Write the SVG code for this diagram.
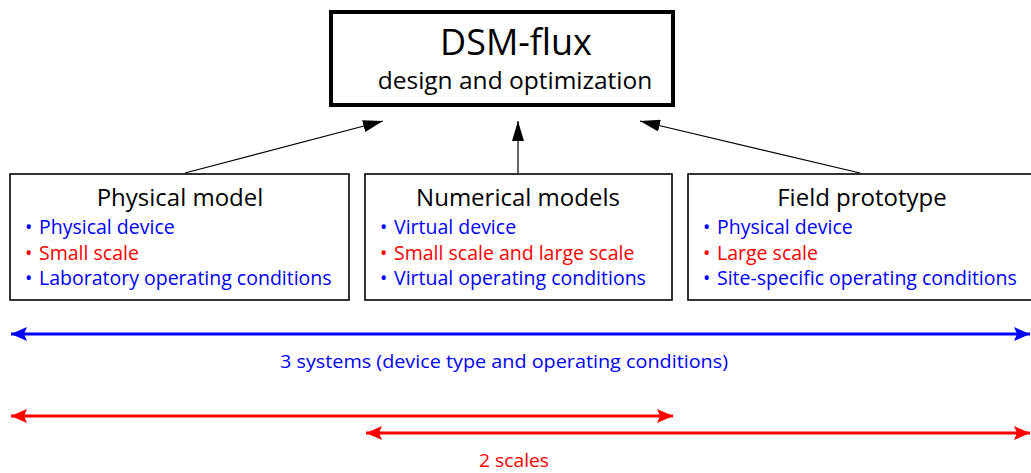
<svg xmlns="http://www.w3.org/2000/svg" width="1031" height="473" viewBox="0 0 1031 473">
<style>
text{font-family:"Open Sans","Noto Sans",sans-serif}
.box{fill:#fff;stroke:#000;stroke-width:1.6}
.title{font-size:24px;fill:#000;text-anchor:middle}
.b{font-size:19.5px;fill:#0000ff}
.r{font-size:19.5px;fill:#ff0000}
.conn{stroke:#000;stroke-width:1.2;fill:none}
</style>
<defs>
<marker id="ah" viewBox="0 0 20 12" refX="20" refY="6" markerWidth="20" markerHeight="12" markerUnits="userSpaceOnUse" orient="auto"><path d="M0,0 L20,6 L0,12 Z" fill="#000"/></marker>
<marker id="bl" viewBox="0 0 16 14" refX="16" refY="7" markerWidth="16" markerHeight="14" markerUnits="userSpaceOnUse" orient="auto-start-reverse"><path d="M0,0 L16,7 L0,14 L3,7 Z" fill="#0000ff"/></marker>
<marker id="rd" viewBox="0 0 16 14" refX="16" refY="7" markerWidth="16" markerHeight="14" markerUnits="userSpaceOnUse" orient="auto-start-reverse"><path d="M0,0 L16,7 L0,14 L3,7 Z" fill="#ff0000"/></marker>
</defs>
<rect width="1031" height="473" fill="#fff"/>
<g id="connectors">
<line class="conn" x1="185" y1="173" x2="383" y2="121" marker-end="url(#ah)"/>
<line class="conn" x1="518" y1="173" x2="518" y2="121" marker-end="url(#ah)"/>
<line class="conn" x1="860" y1="173" x2="640" y2="121" marker-end="url(#ah)"/>
<line x1="11" y1="334" x2="1030" y2="334" stroke="#0000ff" stroke-width="3" marker-start="url(#bl)" marker-end="url(#bl)"/>
<line x1="11" y1="416" x2="673" y2="416" stroke="#ff0000" stroke-width="3" marker-start="url(#rd)" marker-end="url(#rd)"/>
<line x1="366" y1="433" x2="1030" y2="433" stroke="#ff0000" stroke-width="3" marker-start="url(#rd)" marker-end="url(#rd)"/>
</g>
<g id="dsm">
<rect x="331" y="12" width="342" height="93" fill="#fff" stroke="#000" stroke-width="4"/>
<text x="516" y="55" font-size="36" text-anchor="middle" fill="#000">DSM-flux</text>
<text x="515" y="89" font-size="24.5" text-anchor="middle" fill="#000">design and optimization</text>
</g>
<g id="physical">
<rect class="box" x="10" y="174" width="339" height="126"/>
<text class="title" x="180" y="206">Physical model</text>
<text class="b" x="25" y="234">•</text><text class="b" x="39" y="234">Physical device</text>
<text class="r" x="25" y="260">•</text><text class="r" x="39" y="260">Small scale</text>
<text class="b" x="25" y="285">•</text><text class="b" x="39" y="285">Laboratory operating conditions</text>
</g>
<g id="numerical">
<rect class="box" x="365" y="174" width="307" height="126"/>
<text class="title" x="518" y="206">Numerical models</text>
<text class="b" x="380" y="234">•</text><text class="b" x="394" y="234">Virtual device</text>
<text class="r" x="380" y="260">•</text><text class="r" x="394" y="260">Small scale and large scale</text>
<text class="b" x="380" y="285">•</text><text class="b" x="394" y="285">Virtual operating conditions</text>
</g>
<g id="field">
<rect class="box" x="688" y="174" width="345" height="126"/>
<text class="title" x="862" y="206">Field prototype</text>
<text class="b" x="703" y="234">•</text><text class="b" x="717" y="234">Physical device</text>
<text class="r" x="703" y="260">•</text><text class="r" x="717" y="260">Large scale</text>
<text class="b" x="703" y="285">•</text><text class="b" x="717" y="285">Site-specific operating conditions</text>
</g>
<g id="labels">
<text x="504" y="368" font-size="19" fill="#0000ff" text-anchor="middle" textLength="448" lengthAdjust="spacingAndGlyphs">3 systems (device type and operating conditions)</text>
<text x="514" y="467" font-size="19" fill="#ff0000" text-anchor="middle" textLength="70" lengthAdjust="spacingAndGlyphs">2 scales</text>
</g>
</svg>
